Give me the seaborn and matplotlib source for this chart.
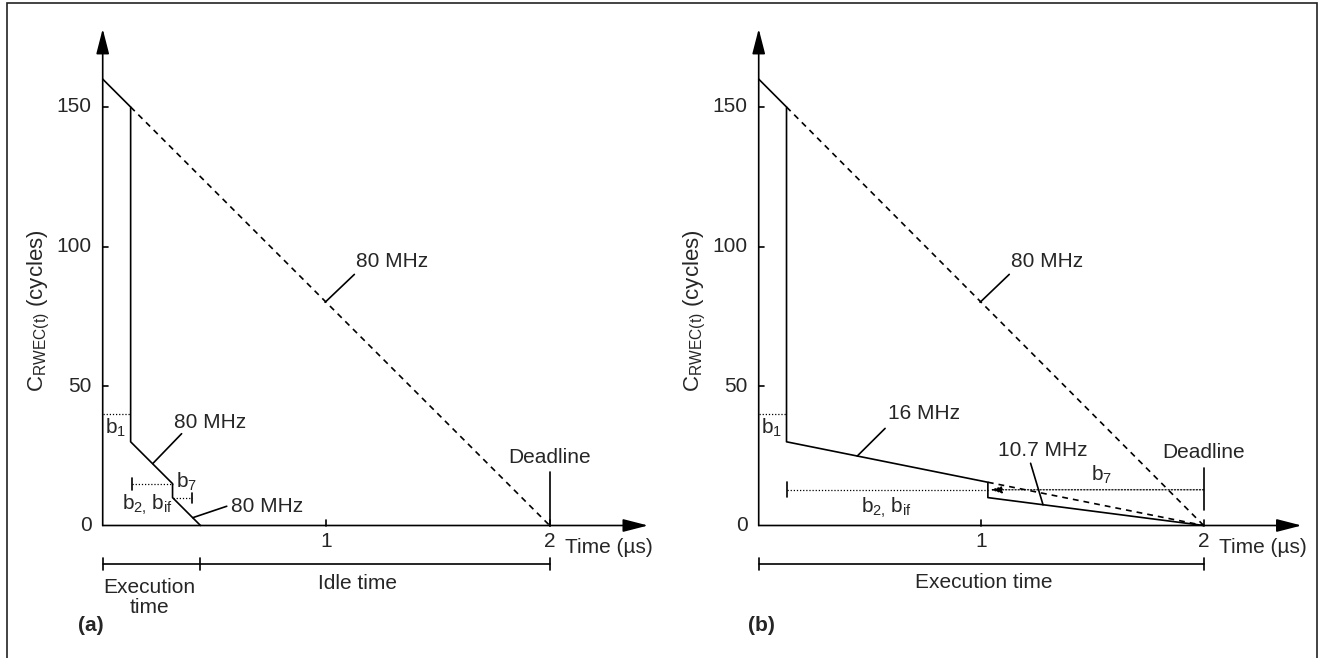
import matplotlib
matplotlib.use('Agg')
import matplotlib.pyplot as plt
import seaborn as sns
from matplotlib.patches import Rectangle

sns.set_theme(style='white')
plt.rcParams['font.family'] = ['Liberation Sans', 'DejaVu Sans']
plt.rcParams['mathtext.fontset'] = 'custom'
plt.rcParams['mathtext.rm'] = 'Liberation Sans'
plt.rcParams['mathtext.it'] = 'Liberation Sans:italic'

# ---- data (time in us, remaining cycles) ----
y_ticks = [0, 50, 100, 150]
x_ticks = [1, 2]

# (a) run at 80 MHz then idle
time_a = [0, 0.125, 0.125, 0.3125, 0.3125, 0.4375]
cyc_a = [160, 150, 30, 15, 10, 0]

# (b) stretched to the deadline
time_b = [0, 0.125, 0.125, 1.03, 1.03, 2.0]
cyc_b = [160, 150, 30, 15.5, 10, 0]

# worst-case 80 MHz reference (dashed, both panels)
time_wc = [0.125, 2.0]
cyc_wc = [150, 0]

# (b) 16 MHz continuation to deadline (dashed)
time_16 = [1.03, 2.0]
cyc_16 = [15.5, 0]

deadline = 2.0
exec_end_a = 0.4375

FS = 15
LW = 1.2
B2BIF = r'$\mathrm{b}_\mathrm{2,}\,\mathrm{b}_\mathrm{if}$'


def make_axes(fig, x0_px, sx):
    # place axes so that data (0,0) sits at x0_px / 525.5 px
    W, H = 1321, 658
    y0_px, sy = 525.5, 2.79
    xlim, ylim = (-0.4, 2.5), (-45, 185)
    left = (x0_px + xlim[0] * sx) / W
    right = (x0_px + xlim[1] * sx) / W
    bottom = 1 - (y0_px - ylim[0] * sy) / H
    top = 1 - (y0_px - ylim[1] * sy) / H
    ax = fig.add_axes([left, bottom, right - left, top - bottom])
    ax.set_xlim(*xlim)
    ax.set_ylim(*ylim)
    ax.axis('off')
    return ax


def line(ax, xs, ys, ls='-', lw=LW):
    sns.lineplot(x=xs, y=ys, sort=False, estimator=None, color='black',
                 linewidth=lw, linestyle=ls, ax=ax)


def axes_frame(ax):
    arrow = dict(arrowstyle='-|>,head_length=0.7,head_width=0.18', color='black',
                 lw=LW, mutation_scale=22, shrinkA=0, shrinkB=0)
    ax.annotate('', xy=(0, 178), xytext=(0, 0), arrowprops=arrow)
    ax.annotate('', xy=(2.44, 0), xytext=(0, 0), arrowprops=arrow)
    for v in y_ticks:
        if v > 0:
            line(ax, [0, 0.025], [v, v])
        ax.text(-0.05, v, str(v), ha='right', va='center', fontsize=FS)
    for v in x_ticks:
        line(ax, [v, v], [0, 2])
        ax.text(v, -2.5, str(v), ha='center', va='top', fontsize=FS)
    ax.text(2.07, -8, 'Time (\u00b5s)', ha='left', va='center', fontsize=FS)
    ax.text(-0.285, 77, r'C$_\mathrm{RWEC(t)}$ (cycles)', rotation=90,
            ha='center', va='center', fontsize=16)
    # b1 marker
    line(ax, [0.0, 0.125], [40, 40], ls=(0, (1, 1.5)), lw=0.9)
    ax.text(0.01, 35, r'b$_\mathrm{1}$', ha='left', va='center', fontsize=FS)
    # worst-case 80 MHz dashed line and label
    line(ax, time_wc, cyc_wc, ls=(0, (3.5, 3)))
    line(ax, [0.995, 1.126], [80, 90])
    ax.text(1.135, 94.6, '80 MHz', ha='left', va='center', fontsize=FS)


fig = plt.figure(figsize=(13.21, 6.58), dpi=100)
fig.add_artist(Rectangle((6.5 / 1321, -0.02), 1310.5 / 1321, 1.02 - 3.5 / 658,
                         transform=fig.transFigure, fill=False,
                         edgecolor='#222222', lw=1.2))

# ---------------- (a) ----------------
ax = make_axes(fig, 102.7, 223.5)
axes_frame(ax)
line(ax, time_a, cyc_a)
# 80 MHz labels
line(ax, [0.224, 0.353], [22.2, 32.9])
ax.text(0.32, 37, '80 MHz', ha='left', va='center', fontsize=FS)
line(ax, [0.403, 0.555], [2.8, 6.9])
ax.text(0.575, 6.9, '80 MHz', ha='left', va='center', fontsize=FS)
# b2, bif and b7 markers
line(ax, [0.13, 0.3125], [15, 15], ls=(0, (1, 1.5)), lw=0.9)
line(ax, [0.13, 0.13], [12.8, 17.2])
ax.text(0.2, 7.5, B2BIF, ha='center', va='center', fontsize=FS)
line(ax, [0.3125, 0.40], [10, 10], ls=(0, (1, 1.5)), lw=0.9)
line(ax, [0.40, 0.40], [7.9, 11.8])
ax.text(0.33, 15.5, r'b$_\mathrm{7}$', ha='left', va='center', fontsize=FS)
# deadline
line(ax, [deadline, deadline], [0, 19])
ax.text(deadline, 24.4, 'Deadline', ha='center', va='center', fontsize=FS)
# timeline
line(ax, [0, deadline], [-13.8, -13.8])
for v in [0, exec_end_a, deadline]:
    line(ax, [v, v], [-11.7, -15.9])
ax.text(0.21, -25.8, 'Execution\ntime', ha='center', va='center', fontsize=FS,
        linespacing=1.1)
ax.text(1.14, -20.8, 'Idle time', ha='center', va='center', fontsize=FS)
ax.text(-0.11, -36, '(a)', ha='left', va='center', fontsize=FS, fontweight='bold')

# ---------------- (b) ----------------
ax = make_axes(fig, 758.7, 222.5)
axes_frame(ax)
line(ax, time_b, cyc_b)
line(ax, time_16, cyc_16, ls=(0, (3.5, 3)))
# frequency labels
line(ax, [0.443, 0.568], [24.9, 34.8])
ax.text(0.58, 40, '16 MHz', ha='left', va='center', fontsize=FS)
line(ax, [1.222, 1.278], [22.3, 7.4])
ax.text(1.077, 27, '10.7 MHz', ha='left', va='center', fontsize=FS)
# b2, bif and b7 markers
line(ax, [0.125, 1.03], [12.8, 12.8], ls=(0, (1, 1.5)), lw=0.9)
line(ax, [0.125, 0.125], [10.2, 15.5])
ax.text(0.575, 6.3, B2BIF, ha='center', va='center', fontsize=FS)
ax.annotate('', xy=(1.04, 12.8), xytext=(2.0, 12.8),
            arrowprops=dict(arrowstyle='-|>,head_length=0.5,head_width=0.15',
                            color='black', lw=0.9, linestyle=(0, (1, 1.5)),
                            mutation_scale=14, shrinkA=0, shrinkB=0))
ax.text(1.54, 18, r'b$_\mathrm{7}$', ha='center', va='center', fontsize=FS)
# deadline
line(ax, [deadline, deadline], [5.6, 20.7])
ax.text(deadline, 26, 'Deadline', ha='center', va='center', fontsize=FS)
# timeline
line(ax, [0, deadline], [-13.8, -13.8])
for v in [0, deadline]:
    line(ax, [v, v], [-11.7, -15.9])
ax.text(1.01, -20.6, 'Execution time', ha='center', va='center', fontsize=FS)
ax.text(-0.05, -36, '(b)', ha='left', va='center', fontsize=FS, fontweight='bold')

fig.savefig('out.png', dpi=100)
